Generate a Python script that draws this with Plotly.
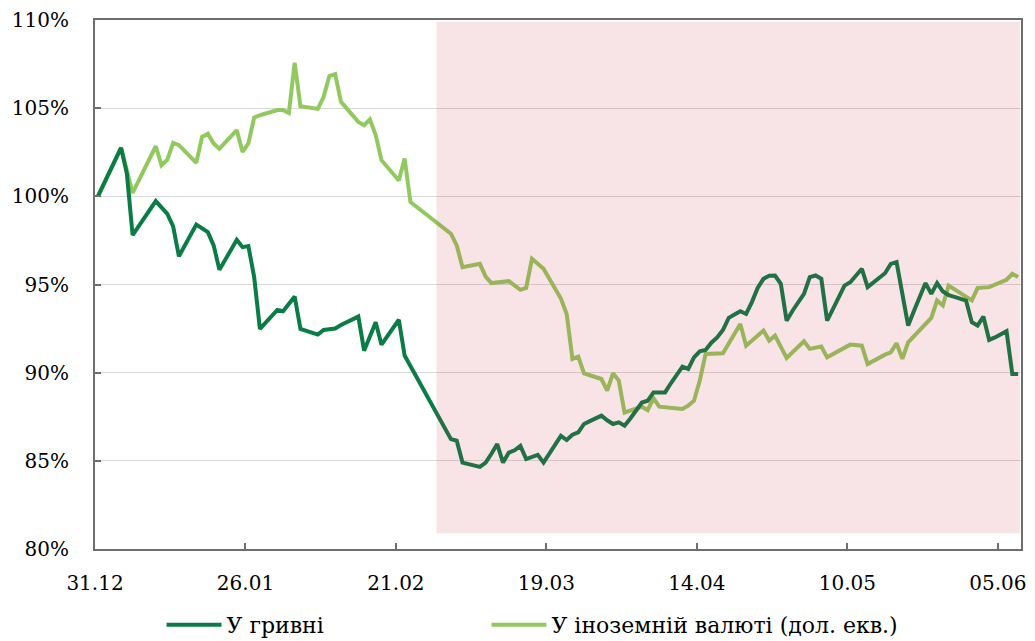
import pandas as pd
import plotly.graph_objects as go

# ---- data (index, 31.12.2021 = 100%) ----
uah_dates = [
    "2021-12-31", "2022-01-04", "2022-01-05", "2022-01-06", "2022-01-10", "2022-01-11", "2022-01-12",
    "2022-01-13", "2022-01-14", "2022-01-17", "2022-01-18", "2022-01-19", "2022-01-20", "2022-01-21",
    "2022-01-24", "2022-01-25", "2022-01-26", "2022-01-27", "2022-01-28", "2022-01-31", "2022-02-01",
    "2022-02-02", "2022-02-03", "2022-02-04", "2022-02-07", "2022-02-08", "2022-02-09", "2022-02-10",
    "2022-02-11", "2022-02-14", "2022-02-15", "2022-02-16", "2022-02-17", "2022-02-18", "2022-02-21",
    "2022-02-22", "2022-03-02", "2022-03-03", "2022-03-04", "2022-03-07", "2022-03-08", "2022-03-09",
    "2022-03-10", "2022-03-11", "2022-03-12", "2022-03-13", "2022-03-14", "2022-03-15", "2022-03-16",
    "2022-03-17", "2022-03-18", "2022-03-19", "2022-03-20", "2022-03-21", "2022-03-22", "2022-03-23",
    "2022-03-24", "2022-03-25", "2022-03-26", "2022-03-27", "2022-03-28", "2022-03-29", "2022-03-30",
    "2022-03-31", "2022-04-01", "2022-04-02", "2022-04-03", "2022-04-04", "2022-04-05", "2022-04-06",
    "2022-04-07", "2022-04-08", "2022-04-09", "2022-04-10", "2022-04-11", "2022-04-12", "2022-04-13",
    "2022-04-14", "2022-04-15", "2022-04-16", "2022-04-17", "2022-04-18", "2022-04-19", "2022-04-20",
    "2022-04-21", "2022-04-22", "2022-04-23", "2022-04-24", "2022-04-25", "2022-04-26", "2022-04-27",
    "2022-04-28", "2022-04-29", "2022-04-30", "2022-05-01", "2022-05-02", "2022-05-03", "2022-05-04",
    "2022-05-05", "2022-05-06", "2022-05-07", "2022-05-08", "2022-05-09", "2022-05-10", "2022-05-11",
    "2022-05-12", "2022-05-13", "2022-05-14", "2022-05-15", "2022-05-16", "2022-05-17", "2022-05-18",
    "2022-05-19", "2022-05-20", "2022-05-21", "2022-05-22", "2022-05-23", "2022-05-24", "2022-05-25",
    "2022-05-26", "2022-05-27", "2022-05-28", "2022-05-29", "2022-05-30", "2022-05-31", "2022-06-01",
    "2022-06-02", "2022-06-03", "2022-06-04", "2022-06-05", "2022-06-06", "2022-06-07", "2022-06-08",
]
uah_values = [
    100.0, 102.75, 101.3, 97.8, 99.73, 99.39, 99.0,
    98.3, 96.6, 98.4, 98.2, 97.97, 97.22, 95.83,
    97.54, 97.12, 97.18, 95.42, 92.48, 93.56, 93.48,
    93.9, 94.32, 92.48, 92.16, 92.42, 92.48, 92.5,
    92.7, 93.18, 91.25, 92.0, 92.86, 91.59, 93.0,
    90.97, 86.23, 86.14, 84.9, 84.66, 84.9, 85.4,
    85.95, 84.9, 85.47, 85.6, 85.85, 85.1, 85.2,
    85.34, 84.9, 85.4, 85.9, 86.42, 86.18, 86.48,
    86.61, 87.09, 87.25, 87.4, 87.56, 87.3, 87.09,
    87.18, 86.99, 87.4, 87.9, 88.31, 88.41, 88.88,
    88.88, 88.88, 89.4, 89.9, 90.34, 90.21, 90.87,
    91.21, 91.29, 91.7, 92.0, 92.42, 93.11, 93.3,
    93.48, 93.33, 94.0, 94.8, 95.32, 95.5, 95.51,
    95.04, 92.95, 93.5, 94.0, 94.47, 95.42, 95.51,
    95.32, 92.95, 93.6, 94.3, 94.94, 95.13, 95.5,
    95.89, 94.85, 95.1, 95.4, 95.64, 96.17, 96.27,
    94.47, 92.67, 93.5, 94.3, 95.08, 94.47, 95.08,
    94.6, 94.4, 94.3, 94.2, 94.09, 92.86, 92.67,
    93.18, 91.86, 92.0, 92.2, 92.35, 89.92, 89.92,
]

fx_dates = [
    "2021-12-31", "2022-01-04", "2022-01-06", "2022-01-10", "2022-01-11", "2022-01-12", "2022-01-13",
    "2022-01-14", "2022-01-17", "2022-01-18", "2022-01-19", "2022-01-20", "2022-01-21", "2022-01-24",
    "2022-01-25", "2022-01-26", "2022-01-27", "2022-01-28", "2022-01-31", "2022-02-01", "2022-02-02",
    "2022-02-03", "2022-02-04", "2022-02-07", "2022-02-08", "2022-02-09", "2022-02-10", "2022-02-11",
    "2022-02-14", "2022-02-15", "2022-02-16", "2022-02-17", "2022-02-18", "2022-02-21", "2022-02-22",
    "2022-02-23", "2022-03-02", "2022-03-03", "2022-03-04", "2022-03-07", "2022-03-08", "2022-03-09",
    "2022-03-12", "2022-03-14", "2022-03-15", "2022-03-16", "2022-03-18", "2022-03-21", "2022-03-22",
    "2022-03-23", "2022-03-24", "2022-03-25", "2022-03-28", "2022-03-29", "2022-03-30", "2022-03-31",
    "2022-04-01", "2022-04-04", "2022-04-05", "2022-04-06", "2022-04-07", "2022-04-11", "2022-04-12",
    "2022-04-13", "2022-04-14", "2022-04-15", "2022-04-18", "2022-04-21", "2022-04-22", "2022-04-25",
    "2022-04-26", "2022-04-27", "2022-04-29", "2022-05-02", "2022-05-03", "2022-05-05", "2022-05-06",
    "2022-05-10", "2022-05-12", "2022-05-13", "2022-05-16", "2022-05-17", "2022-05-18", "2022-05-19",
    "2022-05-20", "2022-05-24", "2022-05-25", "2022-05-26", "2022-05-27", "2022-05-31", "2022-06-01",
    "2022-06-03", "2022-06-06", "2022-06-07", "2022-06-08",
]
fx_values = [
    100.0, 102.77, 100.19, 102.84, 101.76, 102.08, 103.03,
    102.9, 101.9, 103.37, 103.55, 103.0, 102.7, 103.75,
    102.52, 103.0, 104.47, 104.6, 104.89, 104.89, 104.73,
    107.57, 105.11, 104.96, 105.64, 106.82, 106.93, 105.36,
    104.22, 104.03, 104.36, 103.47, 102.05, 100.9, 102.14,
    99.68, 97.88, 97.22, 95.98, 96.17, 95.45, 95.08,
    95.19, 94.7, 94.81, 96.46, 95.89, 94.2, 93.33,
    90.78, 90.91, 89.96, 89.64, 88.98, 89.96, 89.55,
    87.74, 88.07, 87.87, 88.55, 88.07, 87.94, 88.13,
    88.41, 89.55, 91.06, 91.1, 92.76, 91.53, 92.39,
    91.82, 92.1, 90.83, 91.78, 91.35, 91.48, 90.87,
    91.59, 91.53, 90.49, 91.02, 91.15, 91.67, 90.78,
    91.72, 93.11, 94.09, 93.81, 94.94, 94.1, 94.8,
    94.85, 95.27, 95.61, 95.42,
]

series_names = ["У гривні", "У іноземній валюті (дол. екв.)"]
tick_start = "2021-12-31"
tick_step_days = 26
x_range = ["2021-12-31", "2022-06-09"]
shade_period = ["2022-02-28", "2022-06-08 20:00"]
y_range = [80, 110]

# ---- styles ----
DARK = "#0a7d46"
LIGHT = "#92c95e"
AXIS = "#6e6e6e"
FONT = "DejaVu Serif"
TICK_FONT = dict(family=FONT, size=20, color="black")
LEGEND_FONT = dict(family=FONT, size=22, color="black")

# points sit in the middle of their day slot (Excel date axis style)
half_day = pd.Timedelta(hours=12)
uah_x = pd.to_datetime(uah_dates) + half_day
fx_x = pd.to_datetime(fx_dates) + half_day

fig = go.Figure()
fig.add_trace(go.Scatter(x=fx_x, y=fx_values, mode="lines", name=series_names[1],
                         line=dict(color=LIGHT, width=4), legend="legend2"))
fig.add_trace(go.Scatter(x=uah_x, y=uah_values, mode="lines", name=series_names[0],
                         line=dict(color=DARK, width=4), legend="legend"))

fig.add_shape(type="rect", xref="x", yref="y",
              x0=shade_period[0], x1=shade_period[1], y0=80.9, y1=109.9,
              fillcolor="rgba(201,40,63,0.13)", line=dict(width=0), layer="above")

legend_common = dict(orientation="h", xref="container", yref="container",
                     xanchor="left", y=0.0253, yanchor="middle", itemwidth=55,
                     bgcolor="rgba(0,0,0,0)", font=LEGEND_FONT)

# page body has an 8px default margin, so the figure is sized to fit inside it
fig.update_layout(
    width=1027, height=633,
    margin=dict(l=87, r=14, t=12, b=92, autoexpand=False),
    plot_bgcolor="white", paper_bgcolor="white",
    font=dict(family=FONT, size=20, color="black"),
    showlegend=True,
    legend=dict(x=0.1495, **legend_common),
    legend2=dict(x=0.4659, **legend_common),
)
fig.update_xaxes(
    type="date", range=x_range, tick0=tick_start, dtick=tick_step_days * 86400000,
    tickformat="%d.%m", ticks="inside", ticklen=6, tickwidth=1.5, tickcolor=AXIS,
    showline=True, linecolor=AXIS, linewidth=2, mirror=True, showgrid=False,
    zeroline=False, ticklabelstandoff=15, automargin=False, ticklabeloverflow="allow",
    tickfont=TICK_FONT,
)
fig.update_yaxes(
    range=y_range, dtick=5, ticksuffix="%", ticks="inside", ticklen=6, tickwidth=1.5,
    tickcolor=AXIS, showline=True, linecolor=AXIS, linewidth=2, mirror=True,
    showgrid=True, gridcolor="#d9d9d9", gridwidth=1, zeroline=False,
    ticklabelstandoff=20, automargin=False, ticklabeloverflow="allow",
    tickfont=TICK_FONT,
)

fig.write_html("out.html")
